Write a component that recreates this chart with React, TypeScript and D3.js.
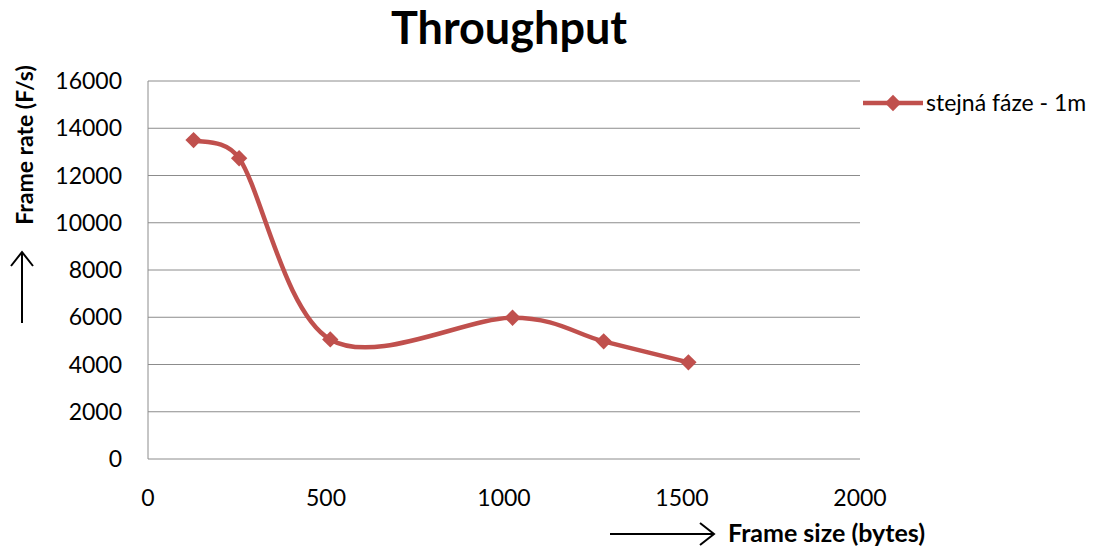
import React, { useEffect, useRef } from 'react';
import * as d3 from 'd3';

// frame size (bytes) vs frame rate (F/s)
const frameSizes = [128, 256, 512, 1024, 1280, 1518];
const frameRates = [13500, 12730, 5060, 5980, 4980, 4090];
const seriesName = 'stejná fáze - 1m';
const xTicks = [0, 500, 1000, 1500, 2000];
const yTicks = [0, 2000, 4000, 6000, 8000, 10000, 12000, 14000, 16000];

const W = 1101;
const H = 551;
const FONT = 'Lato, "Open Sans", sans-serif';
const RED = '#C0504D';

// Excel-style smoothed line: bezier handles of 1/6 of the neighbour span,
// clamped to half of the segment length
function smoothPath(pts: [number, number][]) {
  const p = d3.path();
  const dist = (a: number[], b: number[]) => Math.hypot(b[0] - a[0], b[1] - a[1]);
  p.moveTo(pts[0][0], pts[0][1]);
  for (let i = 0; i < pts.length - 1; i++) {
    const p0 = pts[Math.max(i - 1, 0)];
    const p1 = pts[i];
    const p2 = pts[i + 1];
    const p3 = pts[Math.min(i + 2, pts.length - 1)];
    const d12 = dist(p1, p2);
    const d02 = dist(p0, p2);
    const d13 = dist(p1, p3);
    const fa = d02 > 0 ? Math.min(1 / 6, d12 / (2 * d02)) : 1 / 6;
    const fb = d13 > 0 ? Math.min(1 / 6, d12 / (2 * d13)) : 1 / 6;
    p.bezierCurveTo(
      p1[0] + (p2[0] - p0[0]) * fa,
      p1[1] + (p2[1] - p0[1]) * fa,
      p2[0] - (p3[0] - p1[0]) * fb,
      p2[1] - (p3[1] - p1[1]) * fb,
      p2[0],
      p2[1]
    );
  }
  return p.toString();
}

export default function App() {
  const ref = useRef<SVGSVGElement>(null);

  useEffect(() => {
    const svg = d3.select(ref.current);
    svg.selectAll('*').remove();

    const margin = { left: 148, right: 241, top: 81, bottom: 92 };
    const x = d3.scaleLinear().domain([0, 2000]).range([margin.left, W - margin.right]);
    const y = d3.scaleLinear().domain([0, 16000]).range([H - margin.bottom, margin.top]);

    // gridlines
    svg
      .append('g')
      .selectAll('line')
      .data(yTicks.filter((d) => d > 0))
      .enter()
      .append('line')
      .attr('x1', x(0))
      .attr('x2', x(2000))
      .attr('y1', (d) => y(d))
      .attr('y2', (d) => y(d))
      .attr('stroke', '#8c8c8c')
      .attr('stroke-width', 1);

    // axes lines
    svg
      .append('line')
      .attr('x1', x(0))
      .attr('x2', x(2000))
      .attr('y1', y(0))
      .attr('y2', y(0))
      .attr('stroke', '#8c8c8c');
    svg
      .append('line')
      .attr('x1', x(0))
      .attr('x2', x(0))
      .attr('y1', y(0))
      .attr('y2', y(16000))
      .attr('stroke', '#8c8c8c');

    // tick labels
    svg
      .append('g')
      .selectAll('text')
      .data(yTicks)
      .enter()
      .append('text')
      .attr('x', 122)
      .attr('y', (d) => y(d) + 8)
      .attr('text-anchor', 'end')
      .attr('font-family', FONT)
      .attr('font-size', 23)
      .text((d) => String(d));

    svg
      .append('g')
      .selectAll('text')
      .data(xTicks)
      .enter()
      .append('text')
      .attr('x', (d) => x(d))
      .attr('y', 506)
      .attr('text-anchor', 'middle')
      .attr('font-family', FONT)
      .attr('font-size', 23)
      .text((d) => String(d));

    // title
    svg
      .append('text')
      .attr('x', 509)
      .attr('y', 44)
      .attr('text-anchor', 'middle')
      .attr('font-family', FONT)
      .attr('font-weight', 'bold')
      .attr('font-size', 45)
      .text('Throughput');

    // axis titles + arrows
    svg
      .append('text')
      .attr('transform', 'translate(33,145) rotate(-90)')
      .attr('text-anchor', 'middle')
      .attr('font-family', FONT)
      .attr('font-weight', 'bold')
      .attr('font-size', 23)
      .text('Frame rate (F/s)');

    svg
      .append('text')
      .attr('x', 728)
      .attr('y', 542)
      .attr('font-family', FONT)
      .attr('font-weight', 'bold')
      .attr('font-size', 25)
      .text('Frame size (bytes)');

    const arrow = svg.append('g').attr('stroke', '#000').attr('stroke-width', 2).attr('fill', 'none');
    arrow.append('path').attr('d', 'M22,323 L22,252 M11,266 L22,252 L33,266');
    arrow.append('path').attr('d', 'M610,534 L714,534 M700,523 L714,534 L700,545');

    // series
    const pts: [number, number][] = frameSizes.map((s, i) => [x(s), y(frameRates[i])]);
    svg
      .append('path')
      .attr('d', smoothPath(pts))
      .attr('fill', 'none')
      .attr('stroke', RED)
      .attr('stroke-width', 4.5);

    const diamond = d3.symbol().type(d3.symbolDiamond2).size(170);
    svg
      .append('g')
      .selectAll('path')
      .data(pts)
      .enter()
      .append('path')
      .attr('transform', (d) => `translate(${d[0]},${d[1]})`)
      .attr('d', diamond())
      .attr('fill', RED);

    // legend
    const lg = svg.append('g');
    lg.append('line')
      .attr('x1', 863)
      .attr('x2', 923)
      .attr('y1', 103)
      .attr('y2', 103)
      .attr('stroke', RED)
      .attr('stroke-width', 4.5);
    lg.append('path').attr('transform', 'translate(893,103)').attr('d', diamond()).attr('fill', RED);
    lg.append('text')
      .attr('x', 926)
      .attr('y', 111)
      .attr('font-family', FONT)
      .attr('font-size', 23)
      .text(seriesName);
  }, []);

  return <svg ref={ref} width={W} height={H} style={{ display: 'block', position: 'absolute', left: 0, top: 0, background: '#fff' }} />;
}
